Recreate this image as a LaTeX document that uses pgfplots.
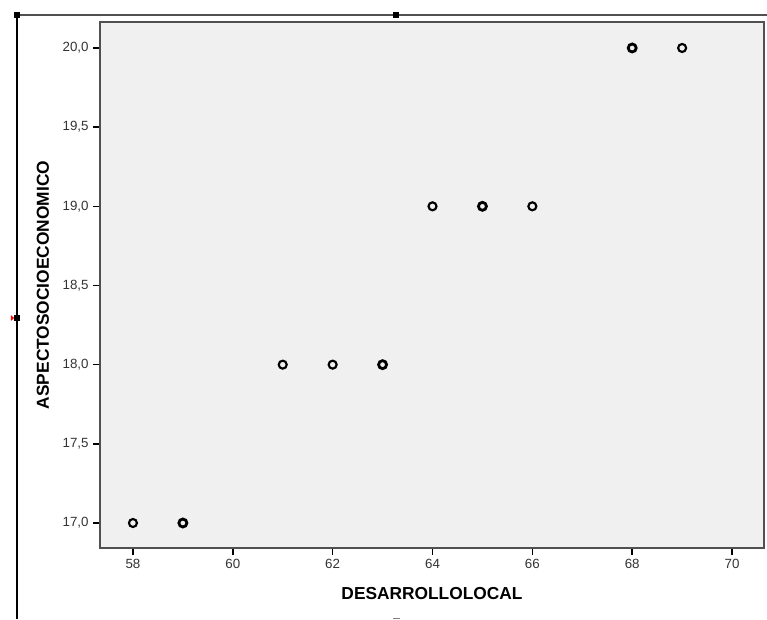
\documentclass[border=0pt]{standalone}
\usepackage{pgfplots}
\pgfplotsset{compat=1.18}
\usepackage{fontspec}
\setmainfont{Liberation Sans}
\definecolor{plotbg}{HTML}{F0F0F0}
\definecolor{framegray}{HTML}{505050}
\definecolor{ticktext}{HTML}{333333}

\begin{document}
\begin{tikzpicture}
% page = 767 x 619 px, 1px = 0.75pt
\useasboundingbox (0,0) rectangle (575.25pt,-464.25pt);
% selection frame round the chart
\draw[framegray, line width=1.1pt] (12.75pt,-11.25pt) -- (575.25pt,-11.25pt);
\draw[black, line width=0.8pt] (12.75pt,-11.25pt) -- (12.75pt,-464.25pt);
\fill[black] (12.75pt,-11.25pt) +(-2.2pt,-2.2pt) rectangle +(2.2pt,2.2pt);
\fill[black] (297pt,-11.25pt) +(-2.2pt,-2.2pt) rectangle +(2.2pt,2.2pt);
\fill[black] (12.75pt,-238.5pt) +(-2.2pt,-2.2pt) rectangle +(2.2pt,2.2pt);
\fill[red] (8.2pt,-236.3pt) -- (10.6pt,-238.5pt) -- (8.2pt,-240.7pt) -- cycle;
\draw[gray, line width=0.6pt] (294.75pt,-463.6pt) -- (300pt,-463.6pt);

\begin{axis}[
    at={(75pt,-411pt)}, anchor=south west,
    scale only axis,
    width=498pt, height=394.5pt,
    xmin=57.34, xmax=70.64,
    ymin=16.842, ymax=20.164,
    axis background/.style={fill=plotbg},
    axis line style={draw=framegray, line width=1.1pt},
    xtick={58,60,...,70},
    ytick={17,17.5,...,20},
    tick align=outside, tick pos=left,
    major tick length=5pt,
    every tick/.style={black, line width=1.1pt},
    /pgf/number format/assume math mode=true,
    ticklabel style={font=\fontsize{10}{12}\selectfont, text=ticktext},
    y tick label style={/pgf/number format/.cd, fixed, fixed zerofill, precision=1, use comma, /tikz/.cd},
    xlabel={DESARROLLOLOCAL},
    ylabel={ASPECTOSOCIOECONOMICO},
    every axis x label/.style={at={(axis description cs:0.5,-0.0856)}, anchor=center,
        font=\bfseries\fontsize{13}{15}\selectfont},
    every axis y label/.style={at={(axis description cs:-0.0858,0.5)}, rotate=90, anchor=center,
        font=\bfseries\fontsize{13}{15}\selectfont},
]
% single cases
\addplot[only marks, mark=o, mark size=3pt, mark options={draw=black, line width=1.6pt}]
    coordinates {(58,17) (61,18) (62,18) (64,19) (66,19) (69,20)};
% overlapping cases (drawn heavier)
\addplot[only marks, mark=o, mark size=3pt, mark options={draw=black, line width=2.1pt}]
    coordinates {(59,17) (63,18) (65,19) (68,20)};
\end{axis}
\end{tikzpicture}
\end{document}
